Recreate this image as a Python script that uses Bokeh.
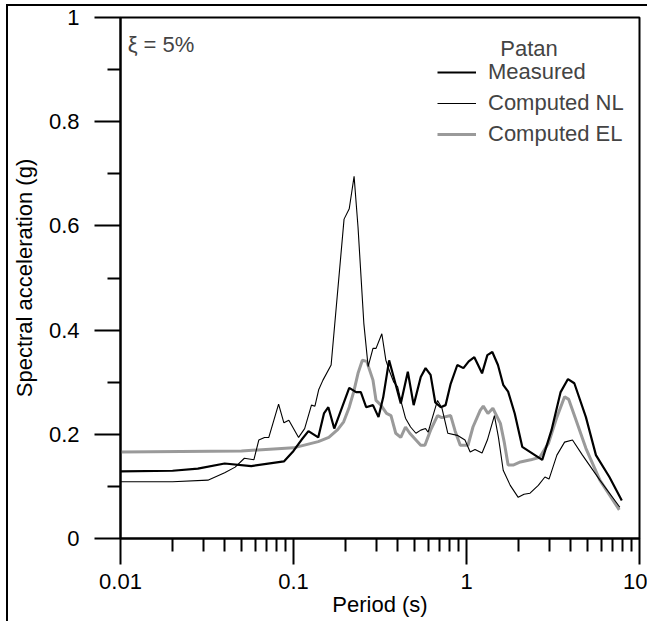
from bokeh.plotting import figure
from bokeh.models import Range1d, FixedTicker, Legend, LegendItem, Label
from bokeh.embed import file_html
from bokeh.resources import INLINE

# ---- data ----
T_meas = [0.01, 0.02, 0.028, 0.04, 0.057, 0.088, 0.1, 0.111, 0.122, 0.139,
          0.15, 0.159, 0.172, 0.21, 0.23, 0.245, 0.263, 0.288, 0.31, 0.33,
          0.357, 0.39, 0.417, 0.458, 0.495, 0.544, 0.58, 0.62, 0.66, 0.71,
          0.757, 0.81, 0.885, 0.96, 1.03, 1.11, 1.23, 1.32, 1.41, 1.52,
          1.63, 1.74, 1.9, 2.1, 2.74, 3.1, 3.5, 3.86, 4.2, 4.9,
          5.6, 6.7, 7.9]
Sa_meas = [0.129, 0.13, 0.134, 0.144, 0.139, 0.148, 0.168, 0.189, 0.206, 0.194,
           0.24, 0.252, 0.211, 0.289, 0.281, 0.281, 0.252, 0.256, 0.233, 0.271,
           0.342, 0.295, 0.259, 0.32, 0.256, 0.31, 0.327, 0.314, 0.261, 0.252,
           0.256, 0.297, 0.333, 0.327, 0.34, 0.348, 0.317, 0.352, 0.358, 0.333,
           0.295, 0.282, 0.24, 0.176, 0.151, 0.208, 0.281, 0.306, 0.298, 0.233,
           0.16, 0.118, 0.073]

T_nl = [0.01, 0.02, 0.032, 0.04, 0.046, 0.052, 0.059, 0.063, 0.068, 0.072,
        0.082, 0.088, 0.094, 0.107, 0.116, 0.127, 0.133, 0.14, 0.148, 0.165,
        0.196, 0.21, 0.224, 0.236, 0.255, 0.27, 0.288, 0.30, 0.324, 0.342,
        0.36, 0.38, 0.40, 0.417, 0.444, 0.475, 0.51, 0.544, 0.58, 0.6,
        0.646, 0.68, 0.72, 0.78, 0.885, 0.98, 1.05, 1.12, 1.23, 1.32,
        1.45, 1.53, 1.63, 1.79, 1.99, 2.15, 2.33, 2.6, 2.84, 3.0,
        3.33, 3.69, 4.1, 4.68, 5.9, 7.7]
Sa_nl = [0.109, 0.109, 0.112, 0.126, 0.137, 0.154, 0.151, 0.189, 0.194, 0.194,
         0.258, 0.222, 0.227, 0.194, 0.211, 0.256, 0.254, 0.286, 0.304, 0.333,
         0.613, 0.633, 0.695, 0.598, 0.413, 0.33, 0.365, 0.365, 0.393, 0.342,
         0.32, 0.3, 0.291, 0.265, 0.231, 0.214, 0.202, 0.208, 0.211, 0.204,
         0.24, 0.265, 0.251, 0.202, 0.198, 0.189, 0.166, 0.171, 0.164, 0.189,
         0.236, 0.194, 0.131, 0.102, 0.079, 0.085, 0.087, 0.102, 0.118, 0.114,
         0.16, 0.185, 0.189, 0.16, 0.112, 0.06]

T_el = [0.01, 0.05, 0.1, 0.139, 0.16, 0.18, 0.195, 0.21, 0.223, 0.236,
        0.25, 0.265, 0.288, 0.30, 0.32, 0.345, 0.366, 0.39, 0.417, 0.444,
        0.47, 0.495, 0.544, 0.575, 0.62, 0.68, 0.72, 0.81, 0.86, 0.92,
        1.02, 1.09, 1.2, 1.25, 1.33, 1.42, 1.57, 1.65, 1.74, 1.86,
        2.05, 2.35, 2.65, 2.98, 3.33, 3.69, 3.9, 4.3, 4.9, 5.9, 7.64]
Sa_el = [0.166, 0.168, 0.174, 0.186, 0.194, 0.209, 0.224, 0.252, 0.282, 0.317,
         0.342, 0.34, 0.304, 0.265, 0.256, 0.24, 0.236, 0.202, 0.194, 0.214,
         0.202, 0.194, 0.179, 0.179, 0.208, 0.236, 0.232, 0.236, 0.206, 0.179,
         0.179, 0.214, 0.246, 0.254, 0.24, 0.25, 0.221, 0.186, 0.141, 0.141,
         0.147, 0.151, 0.156, 0.183, 0.233, 0.272, 0.267, 0.227, 0.173, 0.112, 0.055]

series_names = ["Measured", "Computed NL", "Computed EL"]
legend_title = "Patan"
damping_text = "\u03be = 5%"
x_title = "Period (s)"
y_title = "Spectral acceleration (g)"

x_ticks = [0.01, 0.1, 1, 10]
x_tick_labels = ["0.01", "0.1", "1", "10"]
y_ticks = [0, 0.2, 0.4, 0.6, 0.8, 1]
y_tick_labels = ["0", "0.2", "0.4", "0.6", "0.8", "1"]
y_minor = [0.1, 0.3, 0.5, 0.7, 0.9]
x_minor = [m * d for d in (0.01, 0.1, 1) for m in range(2, 10)]

FONT = "Liberation Sans"
FS = "22px"

p = figure(x_axis_type="log", width=641, height=617,
           x_range=Range1d(0.01, 10), y_range=Range1d(0, 1),
           output_backend="svg", toolbar_location=None,
           min_border_left=110, min_border_right=10,
           min_border_top=11, min_border_bottom=85,
           background_fill_color="white", border_fill_color="white")
p.styles = {"margin-left": "6px", "margin-top": "4px",
            "border-left": "2px solid black", "border-top": "2px solid black"}

p.grid.visible = False
p.outline_line_color = "black"
p.outline_line_width = 2

for ax in (p.xaxis[0], p.yaxis[0]):
    ax.axis_line_width = 2
    ax.major_tick_line_width = 2
    ax.minor_tick_line_width = 2
    ax.major_tick_in = 0
    ax.major_tick_out = 26
    ax.minor_tick_in = 0
    ax.minor_tick_out = 13
    ax.major_label_text_font = FONT
    ax.major_label_text_font_size = FS
    ax.major_label_text_color = "black"
    ax.axis_label_text_font = FONT
    ax.axis_label_text_font_size = FS
    ax.axis_label_text_font_style = "normal"
    ax.axis_label_text_color = "black"

p.xaxis.ticker = FixedTicker(ticks=x_ticks, minor_ticks=x_minor)
p.xaxis.major_label_overrides = dict(zip(x_ticks, x_tick_labels))
p.xaxis.axis_label = x_title
p.xaxis.major_label_standoff = 9
p.xaxis.axis_label_standoff = 0

p.yaxis.ticker = FixedTicker(ticks=y_ticks, minor_ticks=y_minor)
p.yaxis.major_label_overrides = dict(zip(y_ticks, y_tick_labels))
p.yaxis.axis_label = y_title
p.yaxis.major_label_standoff = 15
p.yaxis.axis_label_standoff = 9

r_el = p.line(T_el, Sa_el, line_color="#9a9a9a", line_width=3)
r_nl = p.line(T_nl, Sa_nl, line_color="black", line_width=1.1)
r_meas = p.line(T_meas, Sa_meas, line_color="black", line_width=2.2)

legend = Legend(items=[LegendItem(label=series_names[0], renderers=[r_meas]),
                       LegendItem(label=series_names[1], renderers=[r_nl]),
                       LegendItem(label=series_names[2], renderers=[r_el])],
                location=(317, 391), border_line_color=None,
                background_fill_alpha=0, label_text_font=FONT,
                label_text_font_size=FS, glyph_width=39, glyph_height=24,
                label_height=24, label_standoff=12, spacing=5, padding=5,
                margin=0)
p.add_layout(legend)

p.add_layout(Label(x=2.30, y=0.940, text=legend_title, text_align="center",
                   text_baseline="middle", text_font=FONT, text_font_size=FS))
p.add_layout(Label(x=0.0110, y=0.948, text=damping_text, text_align="left",
                   text_baseline="middle", text_font=FONT, text_font_size=FS))

open("out.html", "w").write(file_html(p, INLINE))
